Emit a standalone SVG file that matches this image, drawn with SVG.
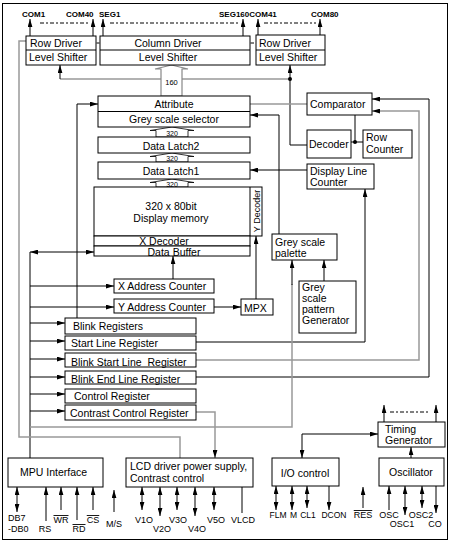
<svg xmlns="http://www.w3.org/2000/svg" width="450" height="542" viewBox="0 0 450 542">
<style>
.box{fill:#fff;stroke:#000;stroke-width:1}
.t{font-family:"Liberation Sans",Arial,sans-serif;font-size:10.5px;fill:#000}
.c{text-anchor:middle}
.p{font-family:"Liberation Sans",Arial,sans-serif;font-size:9px;fill:#000}
.ps{font-size:8.5px}
.top{font-family:"Liberation Sans",Arial,sans-serif;font-size:8px;font-weight:bold;fill:#000}
.bl{font-family:"Liberation Sans",Arial,sans-serif;font-size:7px;fill:#000;text-anchor:middle}
.ln{fill:none;stroke:#000;stroke-width:1}
.gl{fill:none;stroke:#999;stroke-width:1.5}
.da{fill:none;stroke:#000;stroke-width:1;stroke-dasharray:4,2,2,2}
.bus{fill:#fff;stroke:#000;stroke-width:0.8}
.ov{text-decoration:overline}
.a1{marker-end:url(#ah)}
.a2{marker-start:url(#ah);marker-end:url(#ah)}
</style>
<defs>
<marker id="ah" viewBox="0 0 10 6" refX="10" refY="3" markerWidth="8" markerHeight="5" markerUnits="userSpaceOnUse" orient="auto-start-reverse">
<path d="M0,0 L10,3 L0,6 z" fill="#000"/>
</marker>
</defs>
<rect x="2.5" y="3.5" width="445" height="536" fill="#fff" stroke="#000" stroke-width="1"/>

<g id="connectors">
<path class="ln a1" d="M30,36 V19"/>
<path class="ln a1" d="M93,36 V19"/>
<path class="ln a1" d="M103,36 V19"/>
<path class="ln a1" d="M243,36 V19"/>
<path class="ln a1" d="M258,35 V19"/>
<path class="ln a1" d="M320,35 V19"/>
<path class="da" d="M40,23 H89"/>
<path class="da" d="M110,23 H239"/>
<path class="da" d="M264,23 H316"/>
<path class="ln" d="M96.5,43 H99.5"/>
<path class="ln" d="M250.5,43 H254"/>
<path class="gl" d="M60,79 H290"/>
<path class="ln a1" d="M60,79 V65"/>
<path class="ln a1" d="M307,145 H290 V65"/>
<circle cx="290" cy="79" r="2" fill="#000"/>
<polygon points="161,96 161,69 155,69 171.5,65 188,69 182,69 182,96" fill="#fff" stroke="#888" stroke-width="1.2"/>
<text class="bl" x="171.5" y="85" style="font-size:7.5px">160</text>
<polygon class="bus" points="156,137 156,130.5 150,130.5 172,127 194,130.5 188,130.5 188,137"/>
<text class="bl" x="172" y="135.5">320</text>
<polygon class="bus" points="156,162 156,156.5 150,156.5 172,153 194,156.5 188,156.5 188,162"/>
<text class="bl" x="172" y="161">320</text>
<polygon class="bus" points="156,187 156,182.5 150,182.5 172,179 194,182.5 188,182.5 188,187"/>
<text class="bl" x="172" y="186.5">320</text>
<path class="gl" d="M250,104 H307"/>
<path class="ln a1" d="M77,318 V104 H98"/>
<path class="ln a1" d="M279,234 V115 H250"/>
<path class="ln a1" d="M307,170 H250"/>
<path class="ln" d="M355,115 V142 M351,142 H363"/>
<circle cx="355" cy="142" r="2" fill="#000"/>
<path class="ln a1" d="M196,342 H365 V189"/>
<path class="gl a1" d="M196,360 H419 V111 H372"/>
<path class="ln a1" d="M196,377 H429 V99 H372"/>
<path class="ln" d="M30,458 V252"/>
<path class="ln a2" d="M30,252 H94"/>
<path class="ln a1" d="M30,286 H114"/>
<path class="ln a1" d="M30,307 H114"/>
<path class="ln a1" d="M30,323 H65"/>
<path class="ln a1" d="M30,341 H65"/>
<path class="ln a1" d="M30,359 H65"/>
<path class="ln a1" d="M30,377 H65"/>
<path class="ln a1" d="M30,394 H65"/>
<path class="ln a1" d="M30,411 H65"/>
<path class="ln a1" d="M173,279 V256"/>
<path class="ln a1" d="M214,307 H241"/>
<path class="ln a1" d="M256,299 V236"/>
<path class="ln a1" d="M324,281 V260"/>
<path class="gl" d="M30,427 H292 V284"/>
<path class="ln a1" d="M292,285 V260"/>
<path class="gl" d="M180,458 V437 H19 V41 H26"/>
<path class="gl a1" d="M196,412 H215 V458"/>
<path class="ln a2" d="M302,458 V434 H378"/>
<path class="ln a1" d="M411,458 V447"/>
<path class="ln a1" d="M384,422 V405"/>
<path class="ln a1" d="M436,422 V405"/>
<path class="da" d="M390,412 H430"/>
<path class="ln a2" d="M17,487 V512"/>
<path class="ln a1" d="M46,521 V487"/>
<path class="ln a1" d="M61,510 V487"/>
<path class="ln a1" d="M77,520 V487"/>
<path class="ln a1" d="M93,510 V487"/>
<path class="ln a1" d="M114,512 V490"/>
<path class="ln a2" d="M142,487 V510"/>
<path class="ln a2" d="M160,487 V516"/>
<path class="ln a2" d="M177,487 V510"/>
<path class="ln a2" d="M195,487 V516"/>
<path class="ln a2" d="M214,487 V510"/>
<path class="ln" d="M242,487 V513"/>
<path class="ln a2" d="M276,486 V510"/>
<path class="ln a2" d="M292,486 V510"/>
<path class="ln a2" d="M307,486 V508"/>
<path class="ln a1" d="M329,486 V510"/>
<path class="ln a1" d="M363,508 V487"/>
<path class="ln a1" d="M389,510 V486"/>
<path class="ln a2" d="M405,486 V515"/>
<path class="ln a2" d="M422,486 V508"/>
<path class="ln a1" d="M436,486 V513"/>
</g>

<g id="top-labels">
<text class="top" x="22" y="17">COM1</text>
<text class="top" x="66" y="17">COM40</text>
<text class="top" x="99" y="17">SEG1</text>
<text class="top" x="219" y="17">SEG160COM41</text>
<text class="top" x="311" y="17">COM80</text>
</g>

<g id="row-driver-left">
<rect class="box" x="26" y="36" width="70" height="29"/>
<path class="ln" d="M26,50 H96"/>
<text class="t" x="30" y="47">Row Driver</text>
<text class="t" x="29" y="61">Level Shifter</text>
</g>
<g id="column-driver">
<rect class="box" x="100" y="36" width="150" height="29"/>
<path class="ln" d="M100,50 H250"/>
<text class="t c" x="168" y="47">Column Driver</text>
<text class="t c" x="168" y="61">Level Shifter</text>
</g>
<g id="row-driver-right">
<rect class="box" x="256" y="35" width="69" height="30"/>
<path class="ln" d="M256,50 H325"/>
<text class="t" x="259" y="47">Row Driver</text>
<text class="t" x="259" y="61">Level Shifter</text>
</g>
<g id="attribute">
<rect class="box" x="98" y="96" width="152" height="31"/>
<path class="ln" d="M98,111.5 H250"/>
<text class="t c" x="174" y="108">Attribute</text>
<text class="t c" x="174" y="123">Grey scale selector</text>
</g>
<g id="data-latch2">
<rect class="box" x="98" y="137" width="152" height="16"/>
<text class="t c" x="171" y="149.5">Data Latch2</text>
</g>
<g id="data-latch1">
<rect class="box" x="98" y="162" width="152" height="17"/>
<text class="t c" x="171" y="175">Data Latch1</text>
</g>
<g id="display-memory">
<rect class="box" x="94" y="187" width="168" height="49"/>
<path class="ln" d="M250,187 V236"/>
<rect class="box" x="94" y="236" width="156" height="10"/>
<rect class="box" x="94" y="246" width="156" height="10"/>
<text class="t c" x="171" y="210">320 x 80bit</text>
<text class="t c" x="171" y="222">Display memory</text>
<text class="t c" x="164" y="245">X Decoder</text>
<text class="t c" x="174" y="256">Data Buffer</text>
<text class="t c" transform="translate(259.5,211) rotate(-90)" style="font-size:9px">Y Decoder</text>
</g>
<g id="comparator">
<rect class="box" x="307" y="93" width="65" height="22"/>
<text class="t" x="310" y="108">Comparator</text>
</g>
<g id="decoder">
<rect class="box" x="307" y="130" width="44" height="28"/>
<text class="t" x="309" y="148">Decoder</text>
</g>
<g id="row-counter">
<rect class="box" x="363" y="130" width="49" height="28"/>
<text class="t" x="366" y="141">Row</text>
<text class="t" x="366" y="153">Counter</text>
</g>
<g id="display-line-counter">
<rect class="box" x="307" y="164" width="67" height="25"/>
<text class="t" x="310" y="175">Display Line</text>
<text class="t" x="310" y="186">Counter</text>
</g>
<g id="grey-scale-palette">
<rect class="box" x="272" y="234" width="65" height="26"/>
<text class="t" x="275" y="246">Grey scale</text>
<text class="t" x="275" y="257">palette</text>
</g>
<g id="grey-scale-pattern-generator">
<rect class="box" x="299" y="281" width="57" height="52"/>
<text class="t" x="302" y="291">Grey</text>
<text class="t" x="302" y="302">scale</text>
<text class="t" x="302" y="313">pattern</text>
<text class="t" x="302" y="324">Generator</text>
</g>
<g id="x-address-counter">
<rect class="box" x="114" y="279" width="100" height="14"/>
<text class="t" x="118" y="290">X Address Counter</text>
</g>
<g id="y-address-counter">
<rect class="box" x="114" y="299" width="100" height="14"/>
<text class="t" x="118" y="311">Y Address Counter</text>
</g>
<g id="mpx">
<rect class="box" x="241" y="299" width="32" height="16"/>
<text class="t" x="244" y="311.5">MPX</text>
</g>
<g id="blink-registers">
<rect class="box" x="65" y="318" width="131" height="16"/>
<text class="t" x="73" y="330">Blink Registers</text>
</g>
<g id="start-line-register">
<rect class="box" x="65" y="336" width="131" height="14"/>
<text class="t" x="71" y="347">Start Line Register</text>
</g>
<g id="blink-start-line-register">
<rect class="box" x="65" y="353" width="131" height="14"/>
<text class="t" x="71" y="365.5" style="white-space:pre">Blink Start Line  Register</text>
</g>
<g id="blink-end-line-register">
<rect class="box" x="65" y="371" width="131" height="13"/>
<text class="t" x="71" y="383">Blink End Line Register</text>
</g>
<g id="control-register">
<rect class="box" x="65" y="389" width="131" height="14"/>
<text class="t" x="74" y="400">Control Register</text>
</g>
<g id="contrast-control-register">
<rect class="box" x="65" y="405" width="131" height="15"/>
<text class="t" x="70" y="416.5">Contrast Control Register</text>
</g>
<g id="mpu-interface">
<rect class="box" x="8" y="458" width="95" height="29"/>
<text class="t" x="20" y="476">MPU Interface</text>
</g>
<g id="lcd-driver">
<rect class="box" x="126" y="458" width="127" height="29"/>
<text class="t" x="130" y="470">LCD driver power supply,</text>
<text class="t" x="130" y="482">Contrast control</text>
</g>
<g id="io-control">
<rect class="box" x="272" y="458" width="67" height="28"/>
<text class="t c" x="305" y="477">I/O control</text>
</g>
<g id="oscillator">
<rect class="box" x="379" y="458" width="65" height="28"/>
<text class="t c" x="411" y="476">Oscillator</text>
</g>
<g id="timing-generator">
<rect class="box" x="378" y="422" width="67" height="25"/>
<text class="t" x="385" y="433">Timing</text>
<text class="t" x="385" y="444">Generator</text>
</g>

<g id="pin-labels">
<text class="p" x="8" y="521">DB7</text>
<text class="p" x="8" y="532">-DB0</text>
<text class="p c" x="45" y="532">RS</text>
<text class="p c ov" x="61" y="523">WR</text>
<text class="p c ov" x="79" y="532">RD</text>
<text class="p c ov" x="93" y="523">CS</text>
<text class="p c" x="114" y="527">M/S</text>
<text class="p c" x="144" y="523">V1O</text>
<text class="p c" x="162" y="532">V2O</text>
<text class="p c" x="178" y="523">V3O</text>
<text class="p c" x="197" y="532">V4O</text>
<text class="p c" x="216" y="523">V5O</text>
<text class="p c" x="243" y="523">VLCD</text>
<text class="p ps c" x="278" y="518">FLM</text>
<text class="p ps c" x="293.5" y="518">M</text>
<text class="p ps c" x="308" y="518">CL1</text>
<text class="p ps c" x="334" y="518">DCON</text>
<text class="p c ov" x="363" y="518">RES</text>
<text class="p c" x="389" y="518">OSC</text>
<text class="p c" x="421" y="518">OSC2</text>
<text class="p c" x="402" y="527">OSC1</text>
<text class="p c" x="435" y="527">CO</text>
</g>
</svg>
